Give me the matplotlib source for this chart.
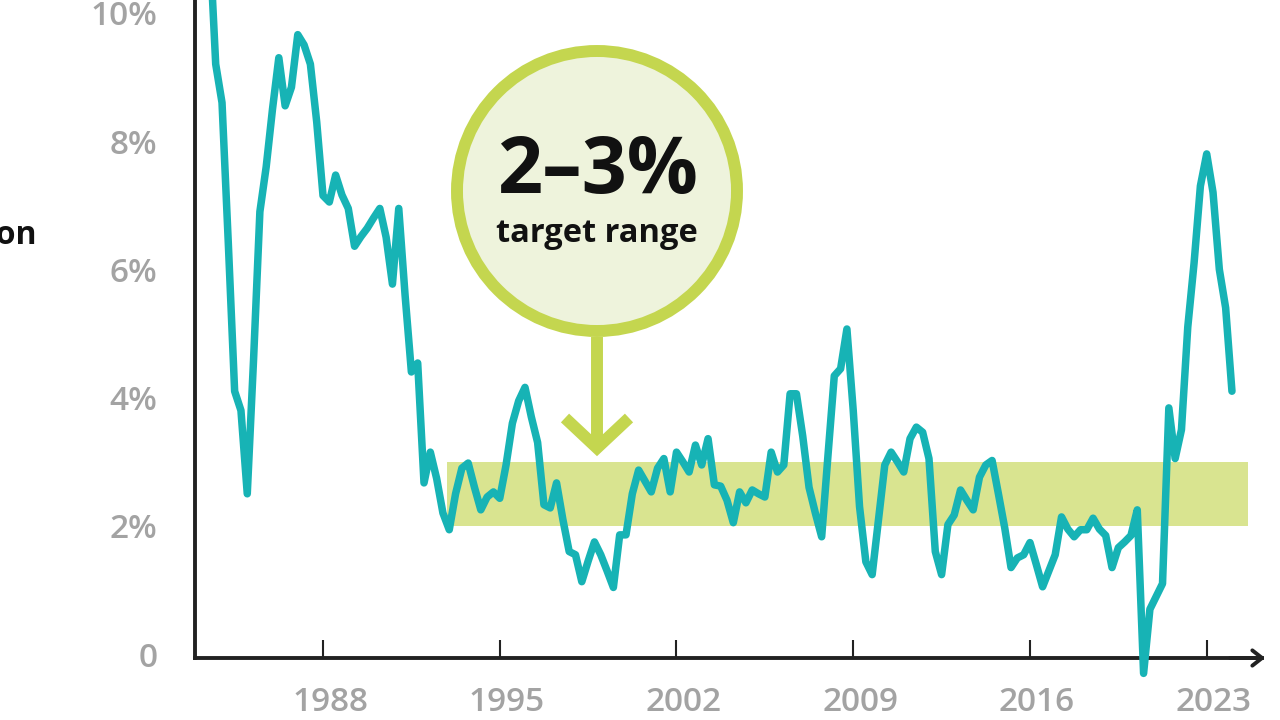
# annual inflation with the 2-3% target band

from matplotlib import pyplot as plt
from matplotlib.patches import Circle
from matplotlib.transforms import ScaledTranslation
import numpy as np

plt.rcParams['font.family'] = ['Open Sans', 'DejaVu Sans']

# quarterly readings, first point mid 1983
inflation = [11.2, 9.2, 8.6, 6.4, 4.1, 3.8, 2.5, 4.6, 6.9, 7.6,
             8.5, 9.3, 8.55, 8.84, 9.66, 9.5, 9.2, 8.3, 7.15, 7.05,
             7.47, 7.16, 6.95, 6.36, 6.51, 6.64, 6.8, 6.95, 6.5, 5.77,
             6.95, 5.6, 4.4, 4.54, 2.67, 3.15, 2.74, 2.2, 1.94, 2.5,
             2.9, 2.98, 2.6, 2.25, 2.45, 2.53, 2.43, 2.95, 3.6, 3.95,
             4.16, 3.7, 3.3, 2.33, 2.28, 2.67, 2.1, 1.6, 1.55, 1.13,
             1.45, 1.75, 1.55, 1.3, 1.04, 1.86, 1.86, 2.5, 2.87, 2.7,
             2.53, 2.9, 3.05, 2.53, 3.15, 3.0, 2.84, 3.26, 2.95, 3.36,
             2.64, 2.62, 2.4, 2.05, 2.53, 2.36, 2.56, 2.5, 2.45, 3.15,
             2.84, 2.95, 4.06, 4.06, 3.4, 2.6, 2.2, 1.83, 3.1, 4.34,
             4.45, 5.07, 3.8, 2.3, 1.44, 1.24, 2.1, 2.95, 3.15, 3.0,
             2.84, 3.36, 3.54, 3.46, 3.05, 1.6, 1.24, 2.02, 2.17, 2.56,
             2.4, 2.25, 2.76, 2.95, 3.02, 2.5, 1.97, 1.35, 1.5, 1.55,
             1.74, 1.4, 1.05, 1.3, 1.55, 2.14, 1.95, 1.83, 1.94, 1.94,
             2.12, 1.95, 1.85, 1.35, 1.66, 1.75, 1.85, 2.25, -0.3, 0.7,
             0.9, 1.1, 3.84, 3.05, 3.5, 5.1, 6.1, 7.3, 7.8, 7.2,
             6.0, 5.4, 4.1]
quarters = 1983.5 + 0.25 * np.arange(len(inflation))

year_ticks = [1988, 1995, 2002, 2009, 2016, 2023]
pct_ticks = [0, 2, 4, 6, 8, 10]
pct_labels = ['0', '2%', '4%', '6%', '8%', '10%']

target_low, target_high = 2, 3
target_start, target_end = 1992.9, 2024.63

teal = '#17b3b5'
green = '#c4d64f'
band = '#d9e490'
grey = '#a3a3a3'
dark = '#222222'

fig = plt.figure(figsize=(12.8, 7.2), dpi=100)
ax = fig.add_axes([195/1280, 62/720, (1262-195)/1280, 658/720])

ax.fill_between([target_start, target_end], target_low, target_high,
                color=band, lw=0, zorder=1)
ax.plot(quarters, inflation, color=teal, lw=5.4, solid_joinstyle='round',
        solid_capstyle='round', clip_on=False, zorder=5)

ax.set_xlim(1982.93, 2025.19)
ax.set_ylim(-0.06, 10.2)

for s in ['top', 'right']:
    ax.spines[s].set_visible(False)
for s in ['left', 'bottom']:
    ax.spines[s].set_linewidth(2.8)
    ax.spines[s].set_color(dark)

ax.set_xticks(year_ticks)
ax.set_xticklabels([str(y) for y in year_ticks])
ax.set_yticks(pct_ticks)
ax.set_yticklabels(pct_labels)
ax.tick_params(axis='x', direction='in', length=13, width=1.5, color=dark,
               pad=20, labelsize=24, labelcolor=grey)
ax.tick_params(axis='y', length=0, pad=27, labelsize=24, labelcolor=grey)
for lbl in ax.get_xticklabels() + ax.get_yticklabels():
    lbl.set_fontweight('semibold')
for lbl in ax.get_xticklabels():
    lbl.set_transform(lbl.get_transform() + ScaledTranslation(0.07, 0, fig.dpi_scale_trans))

# arrow head on the time axis
ax.annotate('', xy=(1.003, 0), xycoords='axes fraction', xytext=(0.97, 0),
            arrowprops=dict(arrowstyle='->,head_length=0.7,head_width=0.55',
                            lw=2.8, color=dark, shrinkA=0, shrinkB=0))

# axis title runs off the left edge in the original too
fig.text(37/1280, 1 - 236/720, 'Inflation', ha='right', va='center',
         fontsize=23, fontweight='bold', color='#111111')

# callout bubble, drawn in pixel space
ov = fig.add_axes([0, 0, 1, 1], facecolor='none')
ov.set_xlim(0, 1280)
ov.set_ylim(720, 0)
ov.set_axis_off()
ov.add_patch(Circle((597, 191), 140, facecolor='#eef3dc', edgecolor=green, lw=8.6))
ov.plot([597, 597], [337, 446], color=green, lw=8.6, solid_capstyle='butt')
ov.plot([565, 597, 629], [418, 448, 418], color=green, lw=8.6,
        solid_joinstyle='miter', solid_capstyle='butt')
ov.text(597, 172, '2–3%', ha='center', va='center', fontsize=57,
        fontweight='bold', color='#111111')
ov.text(597, 233, 'target range', ha='center', va='center', fontsize=23.5,
        fontweight='bold', color='#111111')

fig.savefig('out.png', dpi=100)
